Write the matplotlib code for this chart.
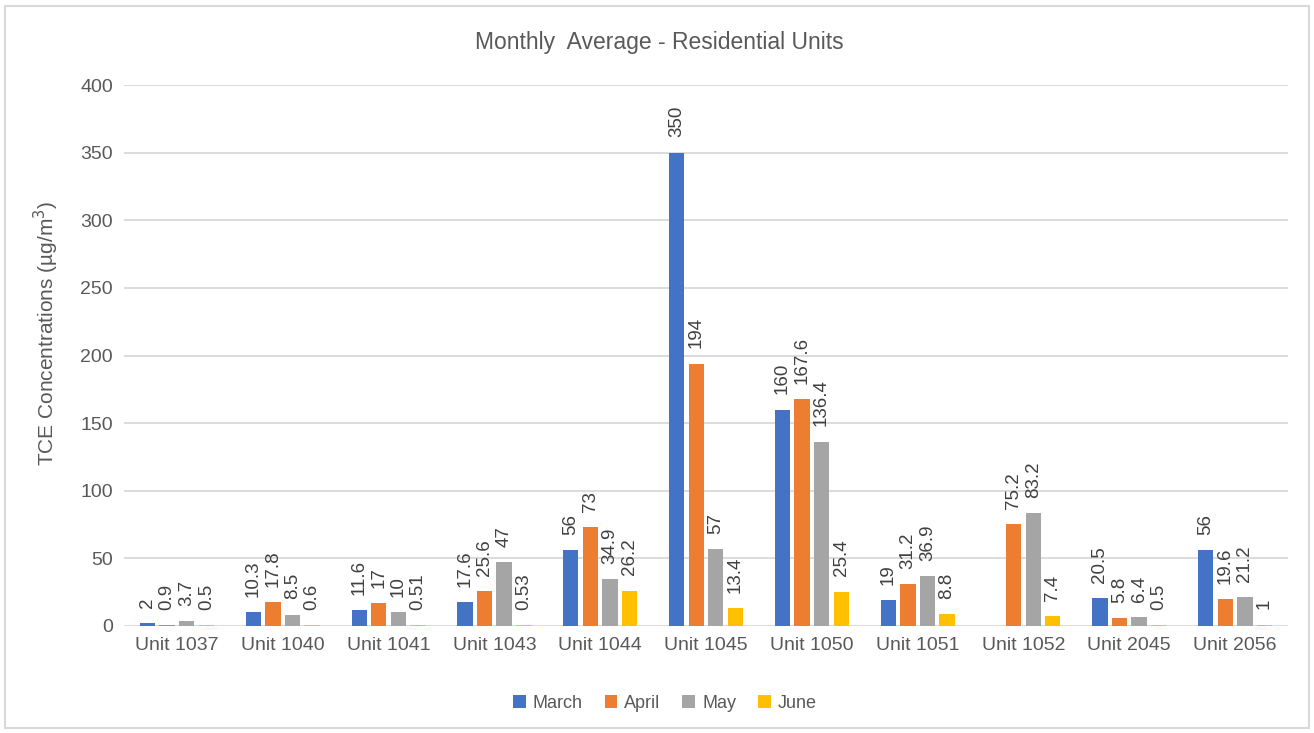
import numpy as np
import matplotlib.pyplot as plt
from matplotlib.patches import Rectangle

units = ["Unit 1037", "Unit 1040", "Unit 1041", "Unit 1043", "Unit 1044", "Unit 1045",
         "Unit 1050", "Unit 1051", "Unit 1052", "Unit 2045", "Unit 2056"]
march = [2, 10.3, 11.6, 17.6, 56, 350, 160, 19, np.nan, 20.5, 56]
april = [0.9, 17.8, 17, 25.6, 73, 194, 167.6, 31.2, 75.2, 5.8, 19.6]
may = [3.7, 8.5, 10, 47, 34.9, 57, 136.4, 36.9, 83.2, 6.4, 21.2]
june = [0.5, 0.6, 0.51, 0.53, 26.2, 13.4, 25.4, 8.8, 7.4, 0.5, 1]

series = [("March", march, "#4472C4"), ("April", april, "#ED7D31"),
          ("May", may, "#A5A5A5"), ("June", june, "#FFC000")]

plt.rcParams['font.family'] = ['Liberation Sans', 'DejaVu Sans']
txt = "#595959"

fig = plt.figure(figsize=(13.14, 7.33), dpi=100)
ax = fig.add_axes([124/1314, 1 - 626/733, 1164/1314, 541/733])

x = np.arange(len(units))
step = 0.185
width = 0.145
for i, (name, vals, col) in enumerate(series):
    pos = x + (i - 1.5) * step
    ax.bar(pos, vals, width, color=col, label=name, zorder=3)
    for px, v in zip(pos, vals):
        if np.isnan(v):
            continue
        ax.annotate(f"{v:g}", (px, v), xytext=(0, 11), textcoords="offset points",
                    rotation=90, ha="center", va="bottom",
                    fontsize=13.5, color="#404040", zorder=4)

ax.set_xlim(-0.5, len(units) - 0.5)
ax.set_ylim(0, 400)
ax.set_yticks(range(0, 401, 50))
ax.set_xticks(x)
ax.set_xticklabels(units)
ax.grid(axis="y", color="#d9d9d9", linewidth=1.3, zorder=0)
for s in ax.spines.values():
    s.set_visible(False)
ax.tick_params(length=0, labelsize=14, colors=txt, pad=8)
ax.set_ylabel("TCE Concentrations (µg/m$^3$)", fontsize=15, color=txt)
ax.yaxis.set_label_coords(-0.054, 0.54)

fig.text(0.502, 1 - 42/733, "Monthly  Average - Residential Units", ha="center", va="center",
         fontsize=16.5, color=txt)
fig.legend(loc="center", bbox_to_anchor=(0.506, 1 - 703/733), ncol=4, frameon=False,
           fontsize=13, handlelength=0.7, handleheight=0.7, columnspacing=1.2,
           handletextpad=0.4, labelcolor=txt)

fig.patches.append(Rectangle((5/1314, 5/733), 1304/1314, 722/733, transform=fig.transFigure,
                             fill=False, edgecolor="#d9d9d9", linewidth=1.5))

fig.savefig("out.png", dpi=100)
